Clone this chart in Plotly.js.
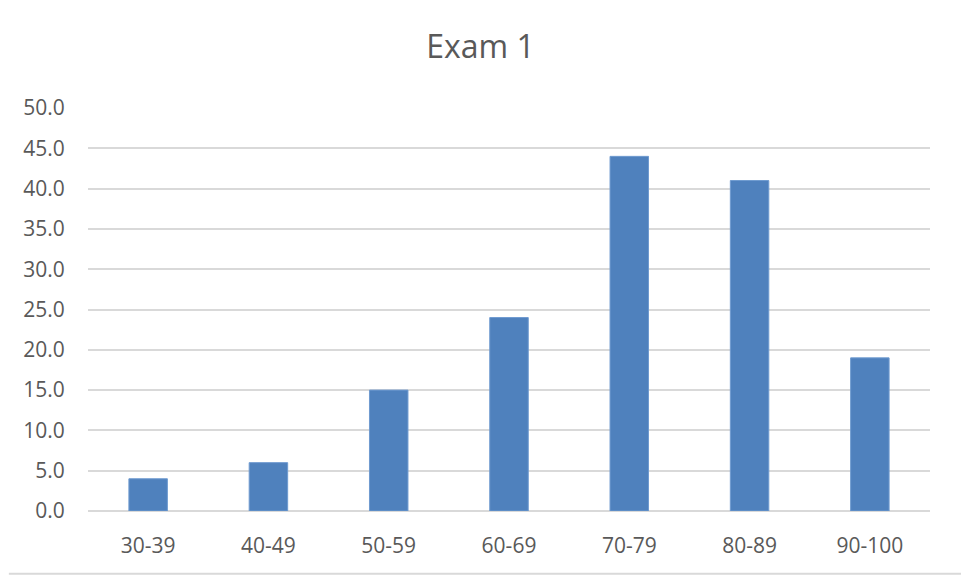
<!DOCTYPE html>
<html><head><meta charset="utf-8">
<script src="https://cdn.plot.ly/plotly-3.0.1.min.js"></script>
<style>html,body{margin:0;padding:0;background:#fff}</style>
</head><body>
<div id="chart" style="width:961px;height:576px"></div>
<script>
const categories = ["30-39","40-49","50-59","60-69","70-79","80-89","90-100"];
const values = [4, 6, 15, 24, 44, 41, 19];
const yTicks = [0,5,10,15,20,25,30,35,40,45,50];

const trace = {
  type: "bar", x: categories, y: values,
  marker: {color: "#4F81BD", line: {color: "#6F9BD0", width: 1}},
  hoverinfo: "skip"
};
const layout = {
  width: 961, height: 576,
  margin: {l: 88, r: 31, t: 108, b: 65},
  paper_bgcolor: "#fff", plot_bgcolor: "#fff",
  font: {family: "Open Sans, Liberation Sans, sans-serif", color: "#595959"},
  title: {text: "Exam 1", x: 0.5, xanchor: "center", y: 0.918, yanchor: "middle",
          font: {size: 32, color: "#595959", family: "Open Sans, sans-serif"}},
  bargap: 0.68,
  showlegend: false,
  xaxis: {type: "category", showgrid: false, zeroline: false, showline: false,
          ticks: "outside", ticklen: 16, tickcolor: "rgba(0,0,0,0)",
          tickfont: {size: 21, color: "#595959"}},
  yaxis: {range: [0, 50], tickvals: yTicks, ticktext: yTicks.map(v => v.toFixed(1)),
          showgrid: true, gridcolor: "#D9D9D9", gridwidth: 2,
          zeroline: true, zerolinecolor: "#D9D9D9", zerolinewidth: 2,
          showline: false, ticks: "outside", ticklen: 18, tickcolor: "rgba(0,0,0,0)",
          tickfont: {size: 21, color: "#595959"}},
  shapes: [{type: "line", xref: "paper", yref: "paper", x0: -0.094, x1: 1.04, y0: -0.156, y1: -0.156,
            line: {color: "#D9D9D9", width: 2}}]
};
Plotly.newPlot("chart", [trace], layout, {displayModeBar: false, staticPlot: true});
</script>
</body></html>
